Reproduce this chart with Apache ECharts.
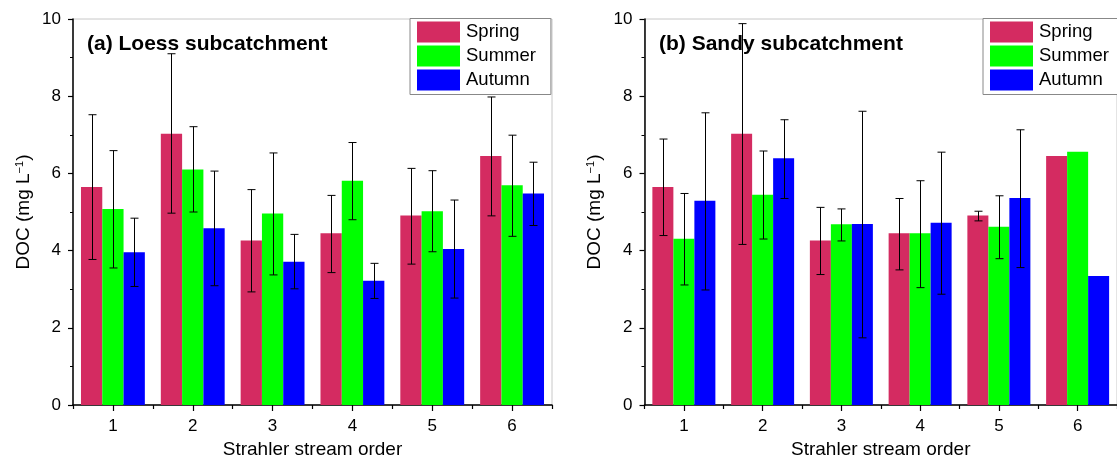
<!DOCTYPE html>
<html>
<head>
<meta charset="utf-8">
<script src="https://cdn.jsdelivr.net/npm/echarts@6/dist/echarts.min.js"></script>
<style>html,body{margin:0;padding:0;background:#fff;}#c{width:1117px;height:464px;}</style>
</head>
<body>
<div id="c"></div>
<script>
const categories = ['1', '2', '3', '4', '5', '6'];
const seasons = ['Spring', 'Summer', 'Autumn'];
const yTicks = [0, 2, 4, 6, 8, 10];

// (a) Loess subcatchment
const loessSpring = [5.65, 7.03, 4.26, 4.45, 4.91, 6.45];
const loessSummer = [5.08, 6.10, 4.96, 5.81, 5.02, 5.69];
const loessAutumn = [3.96, 4.58, 3.71, 3.22, 4.04, 5.48];
const loessSpringLow = [3.77, 4.97, 2.93, 3.43, 3.65, 4.90];
const loessSpringHigh = [7.52, 9.10, 5.58, 5.43, 6.13, 7.98];
const loessSummerLow = [3.55, 5.00, 3.37, 4.80, 3.97, 4.37];
const loessSummerHigh = [6.59, 7.21, 6.53, 6.80, 6.07, 6.99];
const loessAutumnLow = [3.07, 3.09, 3.01, 2.76, 2.77, 4.65];
const loessAutumnHigh = [4.84, 6.06, 4.42, 3.67, 5.31, 6.29];

// (b) Sandy subcatchment
const sandySpring = [5.65, 7.03, 4.26, 4.45, 4.91, 6.45];
const sandySummer = [4.31, 5.45, 4.68, 4.45, 4.62, 6.56];
const sandyAutumn = [5.29, 6.39, 4.69, 4.72, 5.36, 3.34];
const sandySpringLow = [4.39, 4.16, 3.38, 3.50, 4.77, null];
const sandySpringHigh = [6.89, 9.88, 5.12, 5.35, 5.02, null];
const sandySummerLow = [3.11, 4.30, 4.25, 3.04, 3.79, null];
const sandySummerHigh = [5.48, 6.58, 5.08, 5.81, 5.42, null];
const sandyAutumnLow = [2.98, 5.35, 1.74, 2.87, 3.56, null];
const sandyAutumnHigh = [7.57, 7.39, 7.61, 6.55, 7.13, null];

const colors = ['#D42B61', '#00FF00', '#0000FF'];
const FONT = '"Liberation Sans", Arial, sans-serif';

const panels = [
  { title: '(a) Loess subcatchment', values: [loessSpring, loessSummer, loessAutumn],
    low: [loessSpringLow, loessSummerLow, loessAutumnLow], high: [loessSpringHigh, loessSummerHigh, loessAutumnHigh] },
  { title: '(b) Sandy subcatchment', values: [sandySpring, sandySummer, sandyAutumn],
    low: [sandySpringLow, sandySummerLow, sandyAutumnLow], high: [sandySpringHigh, sandySummerHigh, sandyAutumnHigh] }
];

const gridLeft = [73, 644.5];
const titleLeft = [87, 659];
const legendLeft = [410, 983];

const chart = echarts.init(document.getElementById('c'), null, { renderer: 'canvas' });

const grids = [], xAxes = [], yAxes = [], series = [], titles = [], legends = [];

panels.forEach((p, gi) => {
  grids.push({ left: gridLeft[gi], top: 19, width: 479, height: 391, show: true,
    borderColor: '#c8c8c8', borderWidth: 1, backgroundColor: 'transparent', containLabel: false });
  xAxes.push({
    type: 'category', gridIndex: gi, data: categories,
    name: 'Strahler stream order', nameLocation: 'middle', nameGap: 35,
    nameTextStyle: { fontSize: 19, color: '#000', fontFamily: FONT },
    axisLine: { show: true, lineStyle: { color: '#000', width: 1.5 } },
    axisTick: { show: true, alignWithLabel: true, length: 6, lineStyle: { color: '#000', width: 1.2 } },
    axisLabel: { fontSize: 17, color: '#000', fontFamily: FONT, margin: 13 },
    splitLine: { show: false }
  });
  xAxes.push({
    type: 'category', gridIndex: gi, data: categories, position: 'bottom',
    axisLine: { show: false }, axisLabel: { show: false },
    axisTick: { show: true, alignWithLabel: false, interval: 0, length: 4, lineStyle: { color: '#000', width: 1.2 } },
    splitLine: { show: false }
  });
  yAxes.push({
    type: 'value', gridIndex: gi, min: yTicks[0], max: yTicks[yTicks.length - 1], interval: 2,
    name: 'DOC (mg L{sup|\u22121})', nameLocation: 'middle', nameGap: 40,
    nameTextStyle: { fontSize: 19, color: '#000', fontFamily: FONT,
      rich: { sup: { fontSize: 11, color: '#000', fontFamily: FONT, verticalAlign: 'top', lineHeight: 11 } } },
    axisLine: { show: true, lineStyle: { color: '#000', width: 1.5 } },
    axisTick: { show: true, length: 5, lineStyle: { color: '#000', width: 1.2 } },
    minorTick: { show: true, splitNumber: 2, length: 3, lineStyle: { color: '#000', width: 1 } },
    axisLabel: { fontSize: 17, color: '#000', fontFamily: FONT, margin: 12 },
    splitLine: { show: false }
  });
  titles.push({ text: p.title, left: titleLeft[gi], top: 34, padding: 0,
    textStyle: { fontSize: 21, fontWeight: 'bold', color: '#000', fontFamily: FONT } });
  legends.push({
    data: seasons, orient: 'vertical', left: legendLeft[gi], top: 18.5,
    itemWidth: 43, itemHeight: 21, itemGap: 3, padding: [3, 15, 4, 7],
    borderColor: '#888', borderWidth: 1, backgroundColor: '#fff',
    icon: 'rect', selectedMode: false,
    textStyle: { fontSize: 18.5, color: '#000', fontFamily: FONT, lineHeight: 21, padding: [0, 0, 0, 1] }
  });
  seasons.forEach((s, si) => {
    series.push({
      name: s, type: 'bar', xAxisIndex: gi * 2, yAxisIndex: gi,
      data: p.values[si], barGap: '0%', barCategoryGap: '20%',
      itemStyle: { color: colors[si] }, z: 2
    });
  });
  seasons.forEach((s, si) => {
    const errData = [];
    categories.forEach((c, ci) => {
      if (p.low[si][ci] != null && p.high[si][ci] != null) errData.push([ci, p.low[si][ci], p.high[si][ci]]);
    });
    series.push({
      name: s + ' error', type: 'custom', xAxisIndex: gi * 2, yAxisIndex: gi, z: 5,
      data: errData, encode: { x: 0, y: [1, 2] }, silent: true,
      renderItem: (params, api) => {
        const idx = api.value(0);
        const lo = api.coord([idx, api.value(1)]);
        const hi = api.coord([idx, api.value(2)]);
        const band = api.size([1, 0])[0];
        const barW = band * 0.8 / 3;
        const x = Math.round(lo[0] + (si - 1) * barW) + 0.5;
        const cap = 4;
        const st = { stroke: '#000', lineWidth: 1 };
        return { type: 'group', children: [
          { type: 'line', shape: { x1: x, y1: lo[1], x2: x, y2: hi[1] }, style: st },
          { type: 'line', shape: { x1: x - cap, y1: lo[1], x2: x + cap, y2: lo[1] }, style: st },
          { type: 'line', shape: { x1: x - cap, y1: hi[1], x2: x + cap, y2: hi[1] }, style: st }
        ] };
      }
    });
  });
});

chart.setOption({
  backgroundColor: '#fff',
  animation: false,
  textStyle: { fontFamily: FONT },
  title: titles, legend: legends, grid: grids, xAxis: xAxes, yAxis: yAxes, series: series
});
</script>
</body>
</html>
